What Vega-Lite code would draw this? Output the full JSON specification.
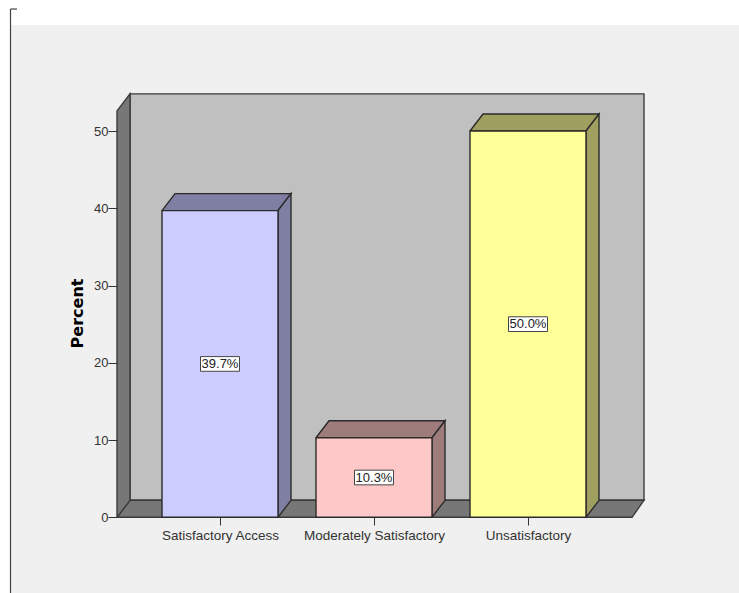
{
  "$schema": "https://vega.github.io/schema/vega-lite/v6.json",
  "width": 739,
  "height": 593,
  "padding": 0,
  "autosize": {"type": "none"},
  "background": "#ffffff",
  "config": {"view": {"stroke": null}, "font": "Liberation Sans"},
  "resolve": {"scale": {"fill": "independent"}},
  "datasets": {
    "bars": [
      {"category": "Satisfactory Access", "percent": 39.7},
      {"category": "Moderately Satisfactory", "percent": 10.3},
      {"category": "Unsatisfactory", "percent": 50.0}
    ],
    "shell": [
      {"face": "back", "n": 0, "x": -0.5844, "y": 2.2},
      {"face": "back", "n": 1, "x": 2.7532, "y": 2.2},
      {"face": "back", "n": 2, "x": 2.7532, "y": 54.8},
      {"face": "back", "n": 3, "x": -0.5844, "y": 54.8},
      {"face": "back", "n": 4, "x": -0.5844, "y": 2.2},
      {"face": "floor", "n": 0, "x": -0.6688, "y": 0},
      {"face": "floor", "n": 1, "x": -0.5844, "y": 2.2},
      {"face": "floor", "n": 2, "x": 2.7532, "y": 2.2},
      {"face": "floor", "n": 3, "x": 2.6753, "y": 0},
      {"face": "floor", "n": 4, "x": -0.6688, "y": 0},
      {"face": "wall", "n": 0, "x": -0.6688, "y": 0},
      {"face": "wall", "n": 1, "x": -0.6688, "y": 52.6},
      {"face": "wall", "n": 2, "x": -0.5844, "y": 54.8},
      {"face": "wall", "n": 3, "x": -0.5844, "y": 2.2},
      {"face": "wall", "n": 4, "x": -0.6688, "y": 0}
    ]
  },
  "layer": [
    {
      "data": {"values": [{}]},
      "mark": {"type": "rect", "fill": "#f0f0f0"},
      "encoding": {
        "x": {"datum": -1.357, "type": "quantitative", "scale": {"domain": [-1.42857, 3.37013], "nice": false, "zero": false}, "axis": {"values": [0, 1, 2], "orient": "bottom", "offset": -76, "title": null, "grid": false, "domain": false, "zindex": 1, "tickSize": 8, "tickWidth": 1, "tickColor": "#333333", "labelColor": "#333333", "labelFontSize": 13.5, "labelPadding": 3, "labelOverlap": false, "labelExpr": "['Satisfactory Access','Moderately Satisfactory','Unsatisfactory'][datum.value]"}},
        "x2": {"datum": 3.37013},
        "y": {"datum": 63.72, "type": "quantitative", "scale": {"domain": [-9.798, 66.956], "nice": false, "zero": false}, "axis": {"values": [0, 10, 20, 30, 40, 50], "orient": "left", "offset": -117, "title": "Percent", "titleFontSize": 16, "titleFont": "DejaVu Sans", "titleFontWeight": "bold", "titleColor": "#000000", "titleX": -32, "titleY": 313, "grid": false, "domain": false, "zindex": 1, "tickSize": 9, "tickWidth": 1, "tickColor": "#333333", "labelColor": "#333333", "labelFontSize": 13, "labelPadding": 0}},
        "y2": {"datum": -9.798}
      }
    },
    {
      "data": {"values": [{}]},
      "mark": {"type": "rule", "stroke": "#444444", "strokeWidth": 1.2},
      "encoding": {
        "x": {"datum": -1.3604, "type": "quantitative"},
        "y": {"datum": 65.79, "type": "quantitative"},
        "y2": {"datum": -9.798}
      }
    },
    {
      "data": {"values": [{}]},
      "mark": {"type": "rule", "stroke": "#444444", "strokeWidth": 1.2},
      "encoding": {
        "x": {"datum": -1.3604, "type": "quantitative"},
        "x2": {"datum": -1.318},
        "y": {"datum": 65.79, "type": "quantitative"}
      }
    },
    {
      "data": {"name": "shell"},
      "mark": {"type": "line", "stroke": "#3a3a3a", "strokeWidth": 1.4, "interpolate": "linear"},
      "encoding": {
        "x": {"field": "x", "type": "quantitative"},
        "y": {"field": "y", "type": "quantitative"},
        "order": {"field": "n", "type": "ordinal"},
        "detail": {"field": "face"},
        "fill": {"field": "face", "type": "nominal", "legend": null, "scale": {"domain": ["back", "floor", "wall"], "range": ["#c0c0c0", "#777777", "#777777"]}}
      }
    },
    {
      "data": {"name": "bars"},
      "transform": [
        {"calculate": "indexof(['Satisfactory Access','Moderately Satisfactory','Unsatisfactory'], datum.category)", "as": "slot"},
        {"calculate": "[0,1,2,3,4]", "as": "corner"},
        {"flatten": ["corner"]},
        {"calculate": "[datum.slot-0.3766, datum.slot+0.3766, datum.slot+0.461, datum.slot-0.2922, datum.slot-0.3766][datum.corner]", "as": "vx"},
        {"calculate": "[datum.percent, datum.percent, datum.percent+2.2, datum.percent+2.2, datum.percent][datum.corner]", "as": "vy"}
      ],
      "mark": {"type": "line", "stroke": "#2b2b2b", "strokeWidth": 1.4, "interpolate": "linear"},
      "encoding": {
        "x": {"field": "vx", "type": "quantitative"},
        "y": {"field": "vy", "type": "quantitative"},
        "order": {"field": "corner", "type": "ordinal"},
        "detail": {"field": "category"},
        "fill": {"field": "category", "type": "nominal", "legend": null, "scale": {"domain": ["Satisfactory Access", "Moderately Satisfactory", "Unsatisfactory"], "range": ["#7f7fa3", "#9f7c7c", "#9f9f60"]}}
      }
    },
    {
      "data": {"name": "bars"},
      "transform": [
        {"calculate": "indexof(['Satisfactory Access','Moderately Satisfactory','Unsatisfactory'], datum.category)", "as": "slot"},
        {"calculate": "[0,1,2,3,4]", "as": "corner"},
        {"flatten": ["corner"]},
        {"calculate": "[datum.slot+0.3766, datum.slot+0.461, datum.slot+0.461, datum.slot+0.3766, datum.slot+0.3766][datum.corner]", "as": "vx"},
        {"calculate": "[0, 2.2, datum.percent+2.2, datum.percent, 0][datum.corner]", "as": "vy"}
      ],
      "mark": {"type": "line", "stroke": "#2b2b2b", "strokeWidth": 1.4, "interpolate": "linear"},
      "encoding": {
        "x": {"field": "vx", "type": "quantitative"},
        "y": {"field": "vy", "type": "quantitative"},
        "order": {"field": "corner", "type": "ordinal"},
        "detail": {"field": "category"},
        "fill": {"field": "category", "type": "nominal", "legend": null, "scale": {"domain": ["Satisfactory Access", "Moderately Satisfactory", "Unsatisfactory"], "range": ["#7f7fa3", "#9f7c7c", "#9f9f60"]}}
      }
    },
    {
      "data": {"name": "bars"},
      "transform": [
        {"calculate": "indexof(['Satisfactory Access','Moderately Satisfactory','Unsatisfactory'], datum.category)", "as": "slot"},
        {"calculate": "datum.slot-0.3766", "as": "left"},
        {"calculate": "datum.slot+0.3766", "as": "right"}
      ],
      "mark": {"type": "rect", "stroke": "#2b2b2b", "strokeWidth": 1.4},
      "encoding": {
        "x": {"field": "left", "type": "quantitative"},
        "x2": {"field": "right"},
        "y": {"field": "percent", "type": "quantitative"},
        "y2": {"datum": 0},
        "fill": {"field": "category", "type": "nominal", "legend": null, "scale": {"domain": ["Satisfactory Access", "Moderately Satisfactory", "Unsatisfactory"], "range": ["#ccccff", "#ffc8c8", "#ffff99"]}}
      }
    },
    {
      "data": {"name": "bars"},
      "transform": [
        {"calculate": "indexof(['Satisfactory Access','Moderately Satisfactory','Unsatisfactory'], datum.category)", "as": "slot"},
        {"calculate": "datum.slot-0.1266", "as": "left"},
        {"calculate": "datum.slot+0.1266", "as": "right"},
        {"calculate": "datum.percent/2+0.95", "as": "boxTop"},
        {"calculate": "datum.percent/2-0.95", "as": "boxBottom"}
      ],
      "mark": {"type": "rect", "fill": "#ffffff", "stroke": "#444444", "strokeWidth": 1},
      "encoding": {
        "x": {"field": "left", "type": "quantitative"},
        "x2": {"field": "right"},
        "y": {"field": "boxTop", "type": "quantitative"},
        "y2": {"field": "boxBottom"}
      }
    },
    {
      "data": {"name": "bars"},
      "transform": [
        {"calculate": "indexof(['Satisfactory Access','Moderately Satisfactory','Unsatisfactory'], datum.category)", "as": "slot"},
        {"calculate": "datum.percent/2", "as": "mid"},
        {"calculate": "format(datum.percent, '.1f') + '%'", "as": "caption"}
      ],
      "mark": {"type": "text", "fontSize": 13, "color": "#222222", "align": "center", "baseline": "middle"},
      "encoding": {
        "x": {"field": "slot", "type": "quantitative"},
        "y": {"field": "mid", "type": "quantitative"},
        "text": {"field": "caption"}
      }
    }
  ]
}
